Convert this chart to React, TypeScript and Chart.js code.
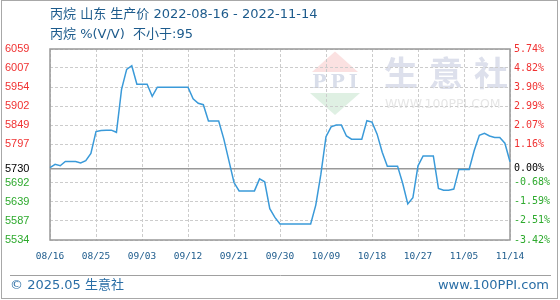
import React, { useEffect, useRef } from "react";
import { Chart, registerables } from "chart.js";

Chart.register(...registerables);

const DATES = [
  "08/16", "08/17", "08/18", "08/19", "08/20", "08/21", "08/22", "08/23", "08/24", "08/25",
  "08/26", "08/27", "08/28", "08/29", "08/30", "08/31",
  "09/01", "09/02", "09/03", "09/04", "09/05", "09/06", "09/07", "09/08", "09/09", "09/10",
  "09/11", "09/12", "09/13", "09/14", "09/15", "09/16", "09/17", "09/18", "09/19", "09/20",
  "09/21", "09/22", "09/23", "09/24", "09/25", "09/26", "09/27", "09/28", "09/29", "09/30",
  "10/01", "10/02", "10/03", "10/04", "10/05", "10/06", "10/07", "10/08", "10/09", "10/10",
  "10/11", "10/12", "10/13", "10/14", "10/15", "10/16", "10/17", "10/18", "10/19", "10/20",
  "10/21", "10/22", "10/23", "10/24", "10/25", "10/26", "10/27", "10/28", "10/29", "10/30",
  "10/31",
  "11/01", "11/02", "11/03", "11/04", "11/05", "11/06", "11/07", "11/08", "11/09", "11/10",
  "11/11", "11/12", "11/13", "11/14",
];

const PRICES = [
  5733, 5742, 5738, 5750, 5750, 5750, 5746, 5752, 5772, 5832,
  5835, 5836, 5836, 5830, 5948, 6003,
  6013, 5962, 5962, 5962, 5929, 5954, 5954, 5954, 5954, 5954,
  5954, 5954, 5922, 5910, 5906, 5861, 5861, 5861, 5812, 5752,
  5692, 5669, 5669, 5669, 5669, 5702, 5694, 5620, 5596, 5578,
  5578, 5578, 5578, 5578, 5578, 5578, 5630, 5715, 5818, 5845,
  5850, 5850, 5820, 5811, 5811, 5811, 5862, 5858, 5825, 5775,
  5737, 5737, 5737, 5690, 5633, 5650, 5738, 5765, 5765, 5765,
  5676,
  5671, 5671, 5674, 5728, 5728, 5728, 5780, 5822, 5827, 5820,
  5816, 5816, 5800, 5749,
];

const BASE = 5730;
const Y_MIN = 5534;
const Y_MAX = 6059;
const LEFT_TICKS = [5534, 5587, 5639, 5692, 5730, 5797, 5849, 5902, 5954, 6007, 6059];
const RIGHT_LABELS = ["-3.42%", "-2.51%", "-1.59%", "-0.68%", "0.00%", "1.16%", "2.07%", "2.99%", "3.90%", "4.82%", "5.74%"];
const X_TICK_EVERY = 9;

const TITLE = "丙烷 山东 生产价 2022-08-16 - 2022-11-14";
const SUBTITLE = "丙烷 %(V/V)  不小于:95";
const FOOTER_LEFT = "© 2025.05 生意社";
const FOOTER_RIGHT = "www.100PPI.com";
const WM_CHARS = ["生", "意", "社"];
const WM_URL = "WWW.100PPI.COM";

const RED = "#f03232";
const GREEN = "#2eaa2e";
const BLUE_TEXT = "#1d5b8c";
const FONT_CJK = '"DejaVu Sans", "Noto Sans CJK SC", sans-serif';

const tickColor = (v: number) => (v > BASE ? RED : v < BASE ? GREEN : "#000");

const decor = {
  id: "decor",
  beforeDraw(chart: any) {
    const { ctx, width, height } = chart;
    ctx.save();
    ctx.fillStyle = "#fff";
    ctx.fillRect(0, 0, width, height);
    // watermark logo
    ctx.fillStyle = "#fbe1e1";
    ctx.beginPath();
    ctx.moveTo(335, 51.5);
    ctx.lineTo(358, 72);
    ctx.lineTo(312, 72);
    ctx.closePath();
    ctx.fill();
    ctx.fillStyle = "#dff0e3";
    ctx.beginPath();
    ctx.moveTo(310, 93);
    ctx.lineTo(360, 93);
    ctx.lineTo(335, 115);
    ctx.closePath();
    ctx.fill();
    ctx.fillStyle = "#d9deea";
    ctx.font = 'bold 19px "DejaVu Serif", serif';
    ctx.textAlign = "center";
    ctx.textBaseline = "middle";
    (ctx as any).letterSpacing = "4px";
    ctx.fillText("PPI", 337, 83.5);
    (ctx as any).letterSpacing = "0px";
    ctx.fillStyle = "#dde0ec";
    ctx.font = 'bold 34px "Noto Sans CJK SC", sans-serif';
    ctx.textAlign = "left";
    WM_CHARS.forEach((c, i) => ctx.fillText(c, 384 + i * 45, 73));
    ctx.fillStyle = "#e6e6e6";
    ctx.font = '12.5px "DejaVu Sans", sans-serif';
    ctx.fillText(WM_URL, 385, 104.5);
    ctx.restore();
  },
  beforeDatasetsDraw(chart: any) {
    const { ctx, chartArea: a } = chart;
    const y = chart.scales.y.getPixelForValue(BASE);
    ctx.save();
    ctx.strokeStyle = "#999";
    ctx.lineWidth = 1.6;
    ctx.beginPath();
    ctx.moveTo(a.left, y);
    ctx.lineTo(a.right, y);
    ctx.stroke();
    ctx.lineWidth = 1.5;
    ctx.strokeRect(a.left, a.top, a.right - a.left, a.bottom - a.top);
    ctx.restore();
  },
  afterDraw(chart: any) {
    const { ctx } = chart;
    ctx.save();
    ctx.textBaseline = "middle";
    ctx.textAlign = "left";
    ctx.fillStyle = BLUE_TEXT;
    ctx.font = "13px " + FONT_CJK;
    ctx.fillText(TITLE, 50, 15);
    ctx.fillText(SUBTITLE, 50, 34.5);
    ctx.fillStyle = "#2a6ea6";
    ctx.fillText(FOOTER_LEFT, 10, 286);
    ctx.textAlign = "right";
    ctx.fillText(FOOTER_RIGHT, 549, 286);
    ctx.strokeStyle = "#a0a0a0";
    ctx.lineWidth = 1;
    ctx.beginPath();
    ctx.moveTo(10, 275.5);
    ctx.lineTo(551, 275.5);
    ctx.stroke();
    ctx.strokeStyle = "#a8a8a8";
    ctx.strokeRect(1.5, 0.5, 556, 298);
    ctx.restore();
  },
};

export default function App() {
  const ref = useRef<HTMLCanvasElement | null>(null);
  useEffect(() => {
    if (!ref.current) return;
    const chart = new Chart(ref.current, {
      type: "line",
      data: {
        labels: DATES,
        datasets: [
          {
            data: PRICES,
            borderColor: "#3a9ad9",
            borderWidth: 1.5,
            pointRadius: 0,
            tension: 0,
            fill: false,
          },
        ],
      },
      options: {
        animation: false,
        responsive: false,
        events: [],
        layout: { padding: { left: 5, right: 0, top: 49, bottom: 0 } },
        plugins: { legend: { display: false }, tooltip: { enabled: false }, title: { display: false } },
        scales: {
          x: {
            type: "category",
            offset: false,
            afterBuildTicks: (s: any) => {
              s.ticks = s.ticks.filter((t: any) => t.value % X_TICK_EVERY === 0);
            },
            afterFit: (s: any) => {
              s.height = 60;
            },
            grid: { color: "#cccccc", lineWidth: 1, drawTicks: false },
            border: { display: false, dash: [3, 2] },
            ticks: {
              autoSkip: false,
              maxRotation: 0,
              padding: 11,
              color: BLUE_TEXT,
              font: { family: '"DejaVu Sans Mono", monospace', size: 9.5 },
            },
          },
          y: {
            type: "linear",
            position: "left",
            min: Y_MIN,
            max: Y_MAX,
            afterBuildTicks: (s: any) => {
              s.ticks = LEFT_TICKS.map((v) => ({ value: v }));
            },
            afterFit: (s: any) => {
              s.width = 45;
            },
            grid: {
              color: (c: any) => (c.tick && c.tick.value === BASE ? "rgba(0,0,0,0)" : "#cccccc"),
              lineWidth: 1,
              drawTicks: false,
            },
            border: { display: false, dash: [3, 2] },
            ticks: {
              crossAlign: "far",
              padding: 4,
              color: (c: any) => tickColor(c.tick.value),
              font: { family: '"Liberation Sans", Arial, sans-serif', size: 11 },
              callback: (v: any) => String(v),
            },
          },
          y1: {
            type: "linear",
            position: "right",
            min: Y_MIN,
            max: Y_MAX,
            afterBuildTicks: (s: any) => {
              s.ticks = LEFT_TICKS.map((v) => ({ value: v }));
            },
            afterFit: (s: any) => {
              s.width = 50;
            },
            grid: { display: false, drawTicks: false },
            border: { display: false },
            ticks: {
              crossAlign: "near",
              padding: 4,
              color: (c: any) => tickColor(c.tick.value),
              font: { family: '"DejaVu Sans Mono", monospace', size: 10 },
              callback: (_v: any, i: number) => RIGHT_LABELS[i],
            },
          },
        },
      },
      plugins: [decor],
    } as any);
    return () => chart.destroy();
  }, []);
  return (
    <div style={{ position: "absolute", left: 0, top: 0, width: 560, height: 300 }}>
      <canvas ref={ref} width={560} height={300} style={{ width: 560, height: 300, display: "block" }} />
    </div>
  );
}
